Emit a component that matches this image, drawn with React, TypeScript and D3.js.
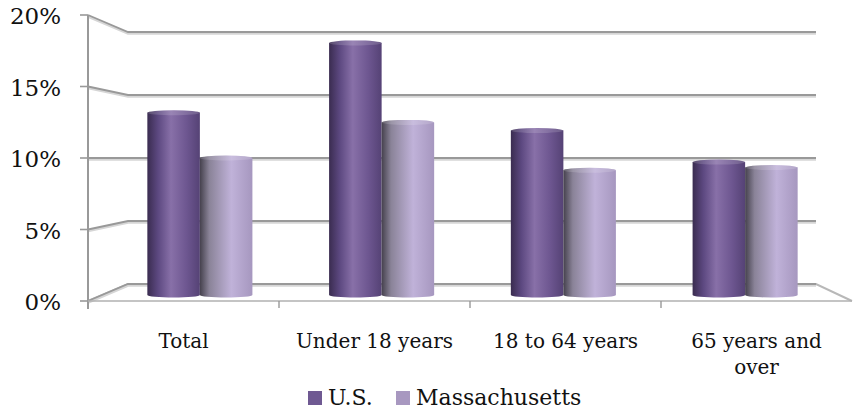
import { useEffect, useRef } from "react";
import * as d3 from "d3";

// ---------------------------------------------------------------------------
// Data
// ---------------------------------------------------------------------------

const CATEGORIES = ["Total", "Under 18 years", "18 to 64 years", "65 years and over"];
const SERIES = ["U.S.", "Massachusetts"];
const US_VALUES = [13.3, 18.4, 12.0, 9.7];
const MA_VALUES = [10.0, 12.6, 9.1, 9.3];
const Y_TICKS = [0, 5, 10, 15, 20];

const W = 853;
const H = 411;
const FONT = "'DejaVu Serif', serif";

// category labels are wrapped like Excel does
const LABEL_LINES: Record<string, string[]> = {
  "65 years and over": ["65 years and", "over"],
};

export default function App() {
  const svgRef = useRef<SVGSVGElement>(null);

  useEffect(() => {
    const svg = d3.select(svgRef.current);
    svg.selectAll("*").remove();

    // ---- "3D" box: front plane, back wall, and the plane the bars stand in ----
    const frontL = 88;
    const frontR = 852;
    const backL = 128;
    const backR = 816;

    const yFront = d3.scaleLinear().domain([0, 20]).range([301, 15]);
    const yBack = d3.scaleLinear().domain([0, 20]).range([284, 32]);
    const yBar = d3.scaleLinear().domain([0, 20]).range([295, 21]);

    const xFront = d3.scaleBand().domain(CATEGORIES).range([frontL, frontR]);
    const xBar = d3.scaleBand().domain(CATEGORIES).range([109, 836]);
    const xSub = d3
      .scaleBand()
      .domain(SERIES)
      .range([0, xBar.bandwidth()])
      .paddingInner(0)
      .paddingOuter(0.73);

    const defs = svg.append("defs");

    const gradients: Record<string, [number, string][]> = {
      us: [
        [0, "#3a2c50"],
        [0.2, "#5c4880"],
        [0.45, "#8870a8"],
        [0.75, "#6d5690"],
        [1, "#554275"],
      ],
      ma: [
        [0, "#45414d"],
        [0.18, "#8a8398"],
        [0.6, "#c0b2d9"],
        [1, "#a697bf"],
      ],
    };
    Object.entries(gradients).forEach(([id, stops]) => {
      const lg = defs
        .append("linearGradient")
        .attr("id", `grad-${id}`)
        .attr("x1", "0%")
        .attr("x2", "100%")
        .attr("y1", "0%")
        .attr("y2", "0%");
      stops.forEach(([o, c]) =>
        lg.append("stop").attr("offset", `${o * 100}%`).attr("stop-color", c)
      );
    });

    const grid = svg.append("g");
    const gridColor = "#999999";
    const shadowColor = "#d6d6d6";

    // floor
    grid
      .append("path")
      .attr(
        "d",
        `M${frontL},${yFront(0)}L${backL},${yBack(0)}L${backR},${yBack(0)}L${frontR},${yFront(0)}`
      )
      .attr("fill", "none")
      .attr("stroke", "#b8b8b8")
      .attr("stroke-width", 2);

    // gridlines: back wall + side wall connector
    Y_TICKS.forEach((t) => {
      [1.5, 0].forEach((dy, k) => {
        grid
          .append("path")
          .attr(
            "d",
            `M${frontL},${yFront(t) + dy}L${backL},${yBack(t) + dy}L${backR},${yBack(t) + dy}`
          )
          .attr("fill", "none")
          .attr("stroke", k === 0 ? shadowColor : gridColor)
          .attr("stroke-width", k === 0 ? 2.5 : 1.8);
      });
    });

    // front vertical axis
    grid
      .append("line")
      .attr("x1", frontL)
      .attr("x2", frontL)
      .attr("y1", yFront(20))
      .attr("y2", yFront(0) + 8)
      .attr("stroke", gridColor)
      .attr("stroke-width", 2);

    // y tick marks
    grid
      .selectAll("line.ytick")
      .data(Y_TICKS)
      .join("line")
      .attr("class", "ytick")
      .attr("x1", frontL - 8)
      .attr("x2", frontL)
      .attr("y1", (d) => yFront(d))
      .attr("y2", (d) => yFront(d))
      .attr("stroke", gridColor)
      .attr("stroke-width", 1.6);

    // front floor edge + category ticks
    grid
      .append("line")
      .attr("x1", frontL)
      .attr("x2", frontR)
      .attr("y1", yFront(0))
      .attr("y2", yFront(0))
      .attr("stroke", "#b0b0b0")
      .attr("stroke-width", 1.6);

    grid
      .selectAll("line.xtick")
      .data(CATEGORIES.slice(1))
      .join("line")
      .attr("class", "xtick")
      .attr("x1", (d) => xFront(d)!)
      .attr("x2", (d) => xFront(d)!)
      .attr("y1", yFront(0))
      .attr("y2", yFront(0) + 7)
      .attr("stroke", gridColor)
      .attr("stroke-width", 1.4);

    // y labels
    svg
      .append("g")
      .selectAll("text")
      .data(Y_TICKS)
      .join("text")
      .attr("x", 61)
      .attr("y", (d) => yFront(d) + 3)
      .attr("text-anchor", "end")
      .attr("dominant-baseline", "middle")
      .attr("font-family", FONT)
      .attr("font-size", 23)
      .attr("fill", "#111")
      .text((d) => `${d}%`);

    // ---- Cylinders ----
    const bars = SERIES.flatMap((s, si) =>
      CATEGORIES.map((c, ci) => ({
        series: s,
        cat: c,
        value: (si === 0 ? US_VALUES : MA_VALUES)[ci],
        grad: si === 0 ? "us" : "ma",
      }))
    );
    const bw = xSub.bandwidth();
    const ry = 2.5;
    const barG = svg.append("g");
    CATEGORIES.forEach((c) => {
      bars
        .filter((b) => b.cat === c)
        .forEach((b) => {
          const x0 = xBar(b.cat)! + xSub(b.series)!;
          const yTop = yBar(b.value);
          const yBot = yBar(0);
          const fill = `url(#grad-${b.grad})`;
          const g = barG.append("g");
          g.append("path")
            .attr(
              "d",
              `M${x0},${yTop}L${x0},${yBot}A${bw / 2},${ry} 0 0 0 ${x0 + bw},${yBot}L${x0 + bw},${yTop}Z`
            )
            .attr("fill", fill);
          g.append("ellipse")
            .attr("cx", x0 + bw / 2)
            .attr("cy", yTop)
            .attr("rx", bw / 2)
            .attr("ry", ry)
            .attr("fill", fill);
          g.append("ellipse")
            .attr("cx", x0 + bw / 2)
            .attr("cy", yTop)
            .attr("rx", bw / 2)
            .attr("ry", ry)
            .attr("fill", "#ffffff")
            .attr("fill-opacity", 0.15);
        });
    });

    // ---- Category labels ----
    const lab = svg.append("g");
    CATEGORIES.forEach((c) => {
      const lines = LABEL_LINES[c] ?? [c];
      const cx = xFront(c)! + xFront.bandwidth() / 2;
      const t = lab
        .append("text")
        .attr("x", cx)
        .attr("y", 348)
        .attr("text-anchor", "middle")
        .attr("font-family", FONT)
        .attr("font-size", 20)
        .attr("fill", "#111");
      lines.forEach((l, i) =>
        t
          .append("tspan")
          .attr("x", cx)
          .attr("dy", i === 0 ? 0 : 26)
          .text(l)
      );
    });

    // ---- Legend ----
    const legendColors = ["#6f5992", "#a898c0"];
    const legendX = [308, 396];
    const leg = svg.append("g");
    SERIES.forEach((s, i) => {
      leg
        .append("rect")
        .attr("x", legendX[i])
        .attr("y", 391)
        .attr("width", 14)
        .attr("height", 14)
        .attr("fill", legendColors[i]);
      leg
        .append("text")
        .attr("x", legendX[i] + 20)
        .attr("y", 405)
        .attr("font-family", FONT)
        .attr("font-size", 22)
        .attr("fill", "#111")
        .text(s);
    });
  }, []);

  return (
    <div style={{ position: "absolute", left: 0, top: 0, width: W, height: H, background: "#fff" }}>
      <svg ref={svgRef} width={W} height={H} style={{ display: "block" }} />
    </div>
  );
}
